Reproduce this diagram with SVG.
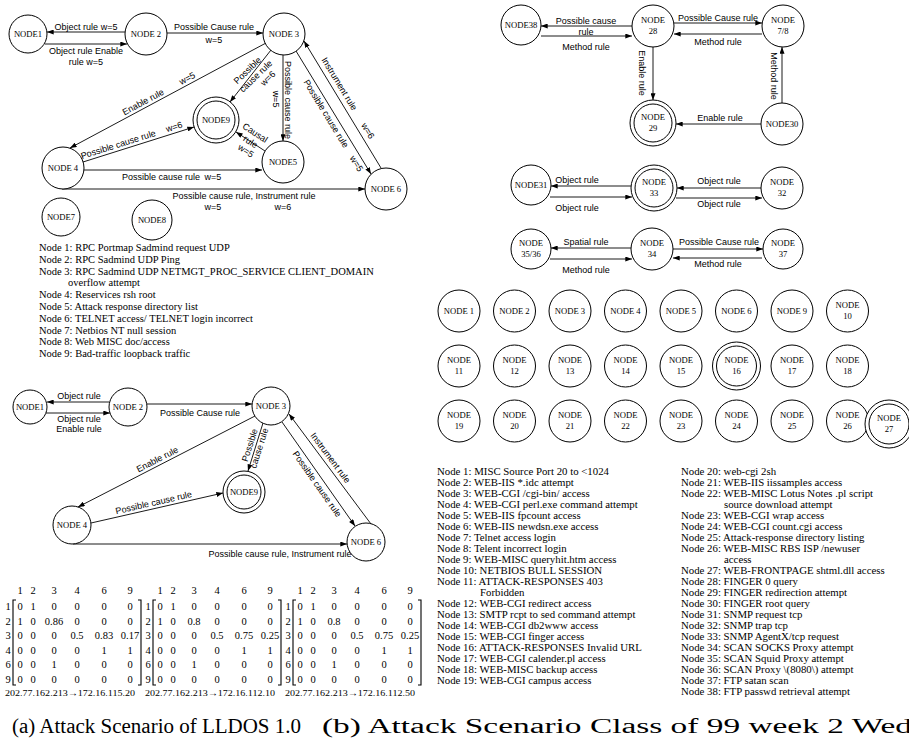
<svg xmlns="http://www.w3.org/2000/svg" width="909" height="747" viewBox="0 0 909 747">
<style>
.n{fill:#fff;stroke:#000;stroke-width:1}
.e{stroke:#000;stroke-width:0.9;fill:none;marker-end:url(#ah)}
.t{font-family:"Liberation Sans",Arial,sans-serif;font-size:9px;fill:#000;text-anchor:middle}
.nl{font-family:"Liberation Serif","Times New Roman",serif;font-size:8.6px;fill:#000;text-anchor:middle}
.lg{font-family:"Liberation Serif","Times New Roman",serif;font-size:10.5px;fill:#000}
.lr{font-family:"Liberation Serif","Times New Roman",serif;font-size:10.8px;fill:#000}
.m{font-family:"Liberation Serif","Times New Roman",serif;font-size:10.5px;fill:#000;text-anchor:middle}
.ip{font-family:"Liberation Serif","Times New Roman",serif;font-size:8.5px;fill:#000}
.br{stroke:#000;stroke-width:1.1;fill:none}
.cap{font-family:"Liberation Serif","Times New Roman",serif;font-size:20px;fill:#000}
</style>
<defs>
<marker id="ah" viewBox="0 0 8 6" refX="8" refY="3" markerWidth="7" markerHeight="5" orient="auto" markerUnits="userSpaceOnUse"><path d="M0,0 L8,3 L0,6 z" fill="#000"/></marker>
</defs>

<!-- ===== Top-left graph ===== -->
<g id="connectors-a1">
<line class="e" x1="125" y1="32" x2="47" y2="32"/>
<line class="e" x1="45" y1="44" x2="127" y2="44"/>
<line class="e" x1="167" y1="33" x2="263" y2="33"/>
<line class="e" x1="266" y1="43" x2="70" y2="148"/>
<line class="e" x1="271" y1="50" x2="230" y2="102"/>
<line class="e" x1="283" y1="55" x2="283" y2="141"/>
<line class="e" x1="296" y1="51" x2="371" y2="174"/>
<line class="e" x1="381" y1="168" x2="304" y2="41"/>
<line class="e" x1="265" y1="151" x2="236" y2="132"/>
<line class="e" x1="83" y1="162" x2="194" y2="127"/>
<line class="e" x1="84" y1="170" x2="262" y2="170"/>
<line class="e" x1="62" y1="189" x2="365" y2="189"/>
<text class="t" x="86" y="30">Object rule w=5</text>
<text class="t" x="86" y="53.5">Object rule Enable</text>
<text class="t" x="86" y="65">rule w=5</text>
<text class="t" x="214" y="30">Possible Cause rule</text>
<text class="t" x="214" y="43">w=5</text>
<text class="t" transform="translate(146,107.3) rotate(-28.2)" y="-3">Enable rule</text>
<text class="t" transform="translate(190,83.7) rotate(-28.2)" y="-3">w=5</text>
<g transform="translate(251,74) rotate(-44)">
<text class="t" y="-2">Possible</text>
<text class="t" x="2" y="8">cause rule</text>
<text class="t" x="9" y="18">w=6</text>
</g>
<text class="t" transform="translate(273,99) rotate(90)">w=5</text>
<text class="t" transform="translate(285,100) rotate(90)">Possible  cause rule</text>
<text class="t" transform="translate(332,110) rotate(58.6)" y="10">Possible cause rule</text>
<text class="t" transform="translate(362.5,160) rotate(58.6)" y="10">w=5</text>
<text class="t" transform="translate(332.5,88) rotate(58.8)" y="-5">Instrument rule</text>
<text class="t" transform="translate(361,135) rotate(58.8)" y="-5">w=6</text>
<g transform="translate(251,141) rotate(33)">
<text class="t" x="-1" y="-6">Causal</text>
<text class="t" y="4">rule</text>
<text class="t" x="1" y="14">w=5</text>
</g>
<text class="t" transform="translate(120,150.3) rotate(-17.5)" y="-3">Possible cause rule</text>
<text class="t" transform="translate(176,132.7) rotate(-17.5)" y="-3">w=6</text>
<text class="t" x="161" y="180">Possible cause rule</text>
<text class="t" x="213" y="180">w=5</text>
<text class="t" x="244" y="199">Possible cause rule, Instrument rule</text>
<text class="t" x="213" y="210">w=5</text>
<text class="t" x="283" y="210">w=6</text>
</g>
<g id="a1-node1"><circle class="n" cx="28" cy="34" r="19"/><text class="nl" x="28" y="37">NODE1</text></g>
<g id="a1-node2"><circle class="n" cx="146" cy="34" r="21"/><text class="nl" x="146" y="37">NODE 2</text></g>
<g id="a1-node3"><circle class="n" cx="284" cy="34" r="21"/><text class="nl" x="284" y="37">NODE 3</text></g>
<g id="a1-node9"><circle class="n" cx="216" cy="120" r="23"/><circle class="n" cx="216" cy="120" r="19"/><text class="nl" x="216" y="123">NODE9</text></g>
<g id="a1-node4"><circle class="n" cx="63" cy="168" r="21"/><text class="nl" x="63" y="171">NODE 4</text></g>
<g id="a1-node5"><circle class="n" cx="283" cy="162" r="21"/><text class="nl" x="283" y="165">NODE5</text></g>
<g id="a1-node6"><circle class="n" cx="386" cy="189" r="21"/><text class="nl" x="386" y="192">NODE 6</text></g>
<g id="a1-node7"><circle class="n" cx="61" cy="217" r="19"/><text class="nl" x="61" y="220">NODE7</text></g>
<g id="a1-node8"><circle class="n" cx="152" cy="220" r="20"/><text class="nl" x="152" y="223">NODE8</text></g>

<g id="legend-a">
<text class="lg" x="39" y="251">Node 1: RPC Portmap Sadmind request UDP</text>
<text class="lg" x="39" y="262.8">Node 2: RPC Sadmind UDP Ping</text>
<text class="lg" x="39" y="274.6">Node 3: RPC Sadmind UDP NETMGT_PROC_SERVICE CLIENT_DOMAIN</text>
<text class="lg" x="68" y="286.4">overflow attempt</text>
<text class="lg" x="39" y="298.2">Node 4: Reservices rsh root</text>
<text class="lg" x="39" y="310">Node 5: Attack response directory list</text>
<text class="lg" x="39" y="321.8">Node 6: TELNET access/ TELNET login incorrect</text>
<text class="lg" x="39" y="333.6">Node 7: Netbios NT null session</text>
<text class="lg" x="39" y="345.4">Node 8: Web MISC doc/access</text>
<text class="lg" x="39" y="357.2">Node 9: Bad-traffic loopback traffic</text>
</g>

<!-- ===== Bottom-left graph ===== -->
<g id="connectors-a2">
<line class="e" x1="109" y1="402" x2="47" y2="402"/>
<line class="e" x1="46" y1="413" x2="110" y2="413"/>
<line class="e" x1="147" y1="404" x2="252" y2="404"/>
<line class="e" x1="255" y1="416" x2="78" y2="507"/>
<line class="e" x1="263" y1="423" x2="248" y2="471"/>
<line class="e" x1="91" y1="523" x2="223" y2="493"/>
<line class="e" x1="282" y1="422" x2="355" y2="526"/>
<line class="e" x1="371" y1="524" x2="289" y2="414"/>
<line class="e" x1="73" y1="544" x2="347" y2="544"/>
<text class="t" x="79" y="399">Object rule</text>
<text class="t" x="79" y="422">Object rule</text>
<text class="t" x="79" y="432">Enable rule</text>
<text class="t" x="200" y="416">Possible Cause rule</text>
<text class="t" transform="translate(160,464.8) rotate(-27.2)" y="-3">Enable rule</text>
<g transform="translate(255.5,447) rotate(-72.6)">
<text class="t" y="-3">Possible</text>
<text class="t" y="7">cause rule</text>
</g>
<text class="t" transform="translate(155,508.5) rotate(-12.8)" y="-3">Possible cause rule</text>
<text class="t" transform="translate(322.7,480) rotate(55)" y="10">Possible cause rule</text>
<text class="t" transform="translate(324.8,462) rotate(53.3)" y="-4">Instrument rule</text>
<text class="t" x="280" y="557">Possible cause rule, Instrument rule</text>
</g>
<g id="a2-node1"><circle class="n" cx="30" cy="407" r="17"/><text class="nl" x="30" y="410">NODE1</text></g>
<g id="a2-node2"><circle class="n" cx="128" cy="407" r="19"/><text class="nl" x="128" y="410">NODE 2</text></g>
<g id="a2-node3"><circle class="n" cx="271" cy="406" r="19"/><text class="nl" x="271" y="409">NODE 3</text></g>
<g id="a2-node9"><circle class="n" cx="244" cy="492" r="21"/><circle class="n" cx="244" cy="492" r="17"/><text class="nl" x="244" y="495">NODE9</text></g>
<g id="a2-node4"><circle class="n" cx="72" cy="525" r="19"/><text class="nl" x="72" y="528">NODE 4</text></g>
<g id="a2-node6"><circle class="n" cx="366" cy="542" r="19"/><text class="nl" x="366" y="545">NODE 6</text></g>

<!-- ===== Matrices ===== -->
<g id="matrices">
<g class="m">
<text x="20" y="594">1</text><text x="33" y="594">2</text><text x="54" y="594">3</text><text x="77" y="594">4</text><text x="104" y="594">6</text><text x="130" y="594">9</text>
<text x="8" y="610">1</text><text x="8" y="624.5">2</text><text x="8" y="639">3</text><text x="8" y="653.5">4</text><text x="8" y="668">6</text><text x="8" y="682.5">9</text>
<text x="20" y="610">0</text><text x="33" y="610">1</text><text x="54" y="610">0</text><text x="77" y="610">0</text><text x="104" y="610">0</text><text x="130" y="610">0</text>
<text x="20" y="624.5">1</text><text x="33" y="624.5">0</text><text x="54" y="624.5">0.86</text><text x="77" y="624.5">0</text><text x="104" y="624.5">0</text><text x="130" y="624.5">0</text>
<text x="20" y="639">0</text><text x="33" y="639">0</text><text x="54" y="639">0</text><text x="77" y="639">0.5</text><text x="104" y="639">0.83</text><text x="130" y="639">0.17</text>
<text x="20" y="653.5">0</text><text x="33" y="653.5">0</text><text x="54" y="653.5">0</text><text x="77" y="653.5">0</text><text x="104" y="653.5">1</text><text x="130" y="653.5">1</text>
<text x="20" y="668">0</text><text x="33" y="668">0</text><text x="54" y="668">1</text><text x="77" y="668">0</text><text x="104" y="668">0</text><text x="130" y="668">0</text>
<text x="20" y="682.5">0</text><text x="33" y="682.5">0</text><text x="54" y="682.5">0</text><text x="77" y="682.5">0</text><text x="104" y="682.5">0</text><text x="130" y="682.5">0</text>

<text x="160" y="594">1</text><text x="173" y="594">2</text><text x="194" y="594">3</text><text x="217" y="594">4</text><text x="244" y="594">6</text><text x="270" y="594">9</text>
<text x="148" y="610">1</text><text x="148" y="624.5">2</text><text x="148" y="639">3</text><text x="148" y="653.5">4</text><text x="148" y="668">6</text><text x="148" y="682.5">9</text>
<text x="160" y="610">0</text><text x="173" y="610">1</text><text x="194" y="610">0</text><text x="217" y="610">0</text><text x="244" y="610">0</text><text x="270" y="610">0</text>
<text x="160" y="624.5">1</text><text x="173" y="624.5">0</text><text x="194" y="624.5">0.8</text><text x="217" y="624.5">0</text><text x="244" y="624.5">0</text><text x="270" y="624.5">0</text>
<text x="160" y="639">0</text><text x="173" y="639">0</text><text x="194" y="639">0</text><text x="217" y="639">0.5</text><text x="244" y="639">0.75</text><text x="270" y="639">0.25</text>
<text x="160" y="653.5">0</text><text x="173" y="653.5">0</text><text x="194" y="653.5">0</text><text x="217" y="653.5">0</text><text x="244" y="653.5">1</text><text x="270" y="653.5">1</text>
<text x="160" y="668">0</text><text x="173" y="668">0</text><text x="194" y="668">1</text><text x="217" y="668">0</text><text x="244" y="668">0</text><text x="270" y="668">0</text>
<text x="160" y="682.5">0</text><text x="173" y="682.5">0</text><text x="194" y="682.5">0</text><text x="217" y="682.5">0</text><text x="244" y="682.5">0</text><text x="270" y="682.5">0</text>

<text x="300" y="594">1</text><text x="313" y="594">2</text><text x="334" y="594">3</text><text x="357" y="594">4</text><text x="384" y="594">6</text><text x="410" y="594">9</text>
<text x="288" y="610">1</text><text x="288" y="624.5">2</text><text x="288" y="639">3</text><text x="288" y="653.5">4</text><text x="288" y="668">6</text><text x="288" y="682.5">9</text>
<text x="300" y="610">0</text><text x="313" y="610">1</text><text x="334" y="610">0</text><text x="357" y="610">0</text><text x="384" y="610">0</text><text x="410" y="610">0</text>
<text x="300" y="624.5">1</text><text x="313" y="624.5">0</text><text x="334" y="624.5">0.8</text><text x="357" y="624.5">0</text><text x="384" y="624.5">0</text><text x="410" y="624.5">0</text>
<text x="300" y="639">0</text><text x="313" y="639">0</text><text x="334" y="639">0</text><text x="357" y="639">0.5</text><text x="384" y="639">0.75</text><text x="410" y="639">0.25</text>
<text x="300" y="653.5">0</text><text x="313" y="653.5">0</text><text x="334" y="653.5">0</text><text x="357" y="653.5">0</text><text x="384" y="653.5">1</text><text x="410" y="653.5">1</text>
<text x="300" y="668">0</text><text x="313" y="668">0</text><text x="334" y="668">1</text><text x="357" y="668">0</text><text x="384" y="668">0</text><text x="410" y="668">0</text>
<text x="300" y="682.5">0</text><text x="313" y="682.5">0</text><text x="334" y="682.5">0</text><text x="357" y="682.5">0</text><text x="384" y="682.5">0</text><text x="410" y="682.5">0</text>
</g>
<path class="br" d="M16,600 H13 V685 H16 M138,600 H141 V685 H138"/>
<path class="br" d="M156,600 H153 V685 H156 M278,600 H281 V685 H278"/>
<path class="br" d="M296,600 H293 V685 H296 M418,600 H421 V685 H418"/>
<text class="ip" x="5" y="696" textLength="130" lengthAdjust="spacingAndGlyphs">202.77.162.213→172.16.115.20</text>
<text class="ip" x="145" y="696" textLength="130" lengthAdjust="spacingAndGlyphs">202.77.162.213→172.16.112.10</text>
<text class="ip" x="285" y="696" textLength="130" lengthAdjust="spacingAndGlyphs">202.77.162.213→172.16.112.50</text>
</g>

<!-- ===== Right graph ===== -->
<g id="connectors-b">
<line class="e" x1="632" y1="26" x2="541" y2="26"/>
<line class="e" x1="541" y1="36" x2="632" y2="36"/>
<line class="e" x1="674" y1="23" x2="762" y2="23"/>
<line class="e" x1="762" y1="34" x2="674" y2="34"/>
<line class="e" x1="653" y1="47" x2="653" y2="100"/>
<line class="e" x1="782" y1="103" x2="782" y2="47"/>
<line class="e" x1="761" y1="124" x2="676" y2="124"/>
<line class="e" x1="631" y1="186" x2="551" y2="186"/>
<line class="e" x1="550" y1="197" x2="632" y2="197"/>
<line class="e" x1="761" y1="188" x2="677" y2="188"/>
<line class="e" x1="676" y1="198" x2="762" y2="198"/>
<line class="e" x1="631" y1="248" x2="551" y2="248"/>
<line class="e" x1="550" y1="259" x2="632" y2="259"/>
<line class="e" x1="673" y1="249" x2="763" y2="249"/>
<line class="e" x1="762" y1="258" x2="673" y2="258"/>
<text class="t" x="586" y="23.5">Possible cause</text>
<text class="t" x="586" y="34.5">rule</text>
<text class="t" x="586" y="50">Method rule</text>
<text class="t" x="718" y="21">Possible Cause rule</text>
<text class="t" x="718" y="44.5">Method rule</text>
<text class="t" transform="translate(639,73) rotate(90)">Enable rule</text>
<text class="t" transform="translate(771,76) rotate(90)">Method rule</text>
<text class="t" x="720" y="121">Enable rule</text>
<text class="t" x="577" y="183">Object rule</text>
<text class="t" x="577" y="211">Object rule</text>
<text class="t" x="719" y="184">Object rule</text>
<text class="t" x="719" y="207">Object rule</text>
<text class="t" x="586" y="245">Spatial rule</text>
<text class="t" x="586" y="273">Method rule</text>
<text class="t" x="719" y="245">Possible Cause rule</text>
<text class="t" x="718" y="267">Method rule</text>
</g>
<g id="b-node38"><circle class="n" cx="521" cy="25" r="20"/><text class="nl" x="521" y="28">NODE38</text></g>
<g id="b-node28"><circle class="n" cx="653" cy="26" r="21"/><text class="nl" x="653" y="23">NODE</text><text class="nl" x="653" y="34">28</text></g>
<g id="b-node78"><circle class="n" cx="783" cy="26" r="21"/><text class="nl" x="783" y="23">NODE</text><text class="nl" x="783" y="34">7/8</text></g>
<g id="b-node29"><circle class="n" cx="653" cy="123" r="23"/><circle class="n" cx="653" cy="123" r="19"/><text class="nl" x="653" y="120">NODE</text><text class="nl" x="653" y="131">29</text></g>
<g id="b-node30"><circle class="n" cx="782" cy="124" r="21"/><text class="nl" x="782" y="127">NODE30</text></g>
<g id="b-node31"><circle class="n" cx="531" cy="185" r="20"/><text class="nl" x="531" y="188">NODE31</text></g>
<g id="b-node33"><circle class="n" cx="654" cy="188" r="23"/><circle class="n" cx="654" cy="188" r="19"/><text class="nl" x="654" y="185">NODE</text><text class="nl" x="654" y="196">33</text></g>
<g id="b-node32"><circle class="n" cx="782" cy="188" r="21"/><text class="nl" x="782" y="185">NODE</text><text class="nl" x="782" y="196">32</text></g>
<g id="b-node3536"><circle class="n" cx="531" cy="249" r="20"/><text class="nl" x="531" y="246">NODE</text><text class="nl" x="531" y="257">35/36</text></g>
<g id="b-node34"><circle class="n" cx="652" cy="249" r="21"/><text class="nl" x="652" y="246">NODE</text><text class="nl" x="652" y="257">34</text></g>
<g id="b-node37"><circle class="n" cx="783" cy="249" r="20"/><text class="nl" x="783" y="246">NODE</text><text class="nl" x="783" y="257">37</text></g>

<!-- ===== Isolated node grid ===== -->
<g id="grid-r1">
<g id="g-node1"><circle class="n" cx="459" cy="311" r="21"/><text class="nl" x="459" y="314">NODE 1</text></g>
<g id="g-node2"><circle class="n" cx="514.5" cy="311" r="21"/><text class="nl" x="514.5" y="314">NODE 2</text></g>
<g id="g-node3"><circle class="n" cx="570" cy="311" r="21"/><text class="nl" x="570" y="314">NODE 3</text></g>
<g id="g-node4"><circle class="n" cx="625.5" cy="311" r="21"/><text class="nl" x="625.5" y="314">NODE 4</text></g>
<g id="g-node5"><circle class="n" cx="681" cy="311" r="21"/><text class="nl" x="681" y="314">NODE 5</text></g>
<g id="g-node6"><circle class="n" cx="736.5" cy="311" r="21"/><text class="nl" x="736.5" y="314">NODE 6</text></g>
<g id="g-node9"><circle class="n" cx="792" cy="311" r="21"/><text class="nl" x="792" y="314">NODE 9</text></g>
<g id="g-node10"><circle class="n" cx="847.5" cy="311" r="21"/><text class="nl" x="847.5" y="308">NODE</text><text class="nl" x="847.5" y="319">10</text></g>
</g>
<g id="grid-r2">
<g id="g-node11"><circle class="n" cx="459" cy="366" r="21"/><text class="nl" x="459" y="363">NODE</text><text class="nl" x="459" y="374">11</text></g>
<g id="g-node12"><circle class="n" cx="514.5" cy="366" r="21"/><text class="nl" x="514.5" y="363">NODE</text><text class="nl" x="514.5" y="374">12</text></g>
<g id="g-node13"><circle class="n" cx="570" cy="366" r="21"/><text class="nl" x="570" y="363">NODE</text><text class="nl" x="570" y="374">13</text></g>
<g id="g-node14"><circle class="n" cx="625.5" cy="366" r="21"/><text class="nl" x="625.5" y="363">NODE</text><text class="nl" x="625.5" y="374">14</text></g>
<g id="g-node15"><circle class="n" cx="681" cy="366" r="21"/><text class="nl" x="681" y="363">NODE</text><text class="nl" x="681" y="374">15</text></g>
<g id="g-node16"><circle class="n" cx="736.5" cy="366" r="24"/><circle class="n" cx="736.5" cy="366" r="20"/><text class="nl" x="736.5" y="363">NODE</text><text class="nl" x="736.5" y="374">16</text></g>
<g id="g-node17"><circle class="n" cx="792" cy="366" r="21"/><text class="nl" x="792" y="363">NODE</text><text class="nl" x="792" y="374">17</text></g>
<g id="g-node18"><circle class="n" cx="847.5" cy="366" r="21"/><text class="nl" x="847.5" y="363">NODE</text><text class="nl" x="847.5" y="374">18</text></g>
</g>
<g id="grid-r3">
<g id="g-node19"><circle class="n" cx="459" cy="421" r="21"/><text class="nl" x="459" y="418">NODE</text><text class="nl" x="459" y="429">19</text></g>
<g id="g-node20"><circle class="n" cx="514.5" cy="421" r="21"/><text class="nl" x="514.5" y="418">NODE</text><text class="nl" x="514.5" y="429">20</text></g>
<g id="g-node21"><circle class="n" cx="570" cy="421" r="21"/><text class="nl" x="570" y="418">NODE</text><text class="nl" x="570" y="429">21</text></g>
<g id="g-node22"><circle class="n" cx="625.5" cy="421" r="21"/><text class="nl" x="625.5" y="418">NODE</text><text class="nl" x="625.5" y="429">22</text></g>
<g id="g-node23"><circle class="n" cx="681" cy="421" r="21"/><text class="nl" x="681" y="418">NODE</text><text class="nl" x="681" y="429">23</text></g>
<g id="g-node24"><circle class="n" cx="736.5" cy="421" r="21"/><text class="nl" x="736.5" y="418">NODE</text><text class="nl" x="736.5" y="429">24</text></g>
<g id="g-node25"><circle class="n" cx="792" cy="421" r="21"/><text class="nl" x="792" y="418">NODE</text><text class="nl" x="792" y="429">25</text></g>
<g id="g-node26"><circle class="n" cx="847.5" cy="421" r="21"/><text class="nl" x="847.5" y="418">NODE</text><text class="nl" x="847.5" y="429">26</text></g>
<g id="g-node27"><circle class="n" cx="889" cy="424" r="24"/><circle class="n" cx="889" cy="424" r="20"/><text class="nl" x="889" y="421">NODE</text><text class="nl" x="889" y="432">27</text></g>
</g>

<!-- ===== Right legend ===== -->
<g id="legend-b1">
<text class="lr" x="437" y="474.5">Node 1: MISC Source Port 20 to &lt;1024</text>
<text class="lr" x="437" y="485.5">Node 2: WEB-IIS *.idc attempt</text>
<text class="lr" x="437" y="496.5">Node 3: WEB-CGI /cgi-bin/ access</text>
<text class="lr" x="437" y="507.5">Node 4: WEB-CGI perl.exe command attempt</text>
<text class="lr" x="437" y="518.5">Node 5: WEB-IIS fpcount access</text>
<text class="lr" x="437" y="529.5">Node 6: WEB-IIS newdsn.exe access</text>
<text class="lr" x="437" y="540.5">Node 7: Telnet access login</text>
<text class="lr" x="437" y="551.5">Node 8: Telent incorrect login</text>
<text class="lr" x="437" y="562.5">Node 9: WEB-MISC queryhit.htm access</text>
<text class="lr" x="437" y="573.5">Node 10: NETBIOS BULL SESSION</text>
<text class="lr" x="437" y="584.5">Node 11: ATTACK-RESPONSES 403</text>
<text class="lr" x="480" y="595.5">Forbidden</text>
<text class="lr" x="437" y="606.5">Node 12: WEB-CGI redirect access</text>
<text class="lr" x="437" y="617.5">Node 13: SMTP rcpt to sed command attempt</text>
<text class="lr" x="437" y="628.5">Node 14: WEB-CGI db2www access</text>
<text class="lr" x="437" y="639.5">Node 15: WEB-CGI finger access</text>
<text class="lr" x="437" y="650.5">Node 16: ATTACK-RESPONSES Invalid URL</text>
<text class="lr" x="437" y="661.5">Node 17: WEB-CGI calender.pl access</text>
<text class="lr" x="437" y="672.5">Node 18: WEB-MISC backup access</text>
<text class="lr" x="437" y="683.5">Node 19: WEB-CGI campus access</text>
</g>
<g id="legend-b2">
<text class="lr" x="681" y="474.5">Node 20: web-cgi 2sh</text>
<text class="lr" x="681" y="485.5">Node 21: WEB-IIS iissamples access</text>
<text class="lr" x="681" y="496.5">Node 22: WEB-MISC Lotus Notes .pl script</text>
<text class="lr" x="724" y="507.5">source download attempt</text>
<text class="lr" x="681" y="518.5">Node 23: WEB-CGI wrap access</text>
<text class="lr" x="681" y="529.5">Node 24: WEB-CGI count.cgi access</text>
<text class="lr" x="681" y="540.5">Node 25: Attack-response directory listing</text>
<text class="lr" x="681" y="551.5">Node 26: WEB-MISC RBS ISP /newuser</text>
<text class="lr" x="724" y="562.5">access</text>
<text class="lr" x="681" y="573.5">Node 27: WEB-FRONTPAGE shtml.dll access</text>
<text class="lr" x="681" y="584.5">Node 28: FINGER 0 query</text>
<text class="lr" x="681" y="595.5">Node 29: FINGER redirection attempt</text>
<text class="lr" x="681" y="606.5">Node 30: FINGER root query</text>
<text class="lr" x="681" y="617.5">Node 31: SNMP request tcp</text>
<text class="lr" x="681" y="628.5">Node 32: SNMP trap tcp</text>
<text class="lr" x="681" y="639.5">Node 33: SNMP AgentX/tcp request</text>
<text class="lr" x="681" y="650.5">Node 34: SCAN SOCKS Proxy attempt</text>
<text class="lr" x="681" y="661.5">Node 35: SCAN Squid Proxy attempt</text>
<text class="lr" x="681" y="672.5">Node 36: SCAN Proxy \(8080\) attempt</text>
<text class="lr" x="681" y="683.5">Node 37: FTP satan scan</text>
<text class="lr" x="681" y="694.5">Node 38: FTP passwd retrieval attempt</text>
</g>

<g id="captions">
<text class="cap" x="12" y="733" textLength="289" lengthAdjust="spacingAndGlyphs">(a) Attack Scenario of LLDOS 1.0</text>
<text class="cap" x="322" y="733" textLength="590" lengthAdjust="spacingAndGlyphs">(b) Attack Scenario Class of 99 week 2 Wed</text>
</g>
</svg>
